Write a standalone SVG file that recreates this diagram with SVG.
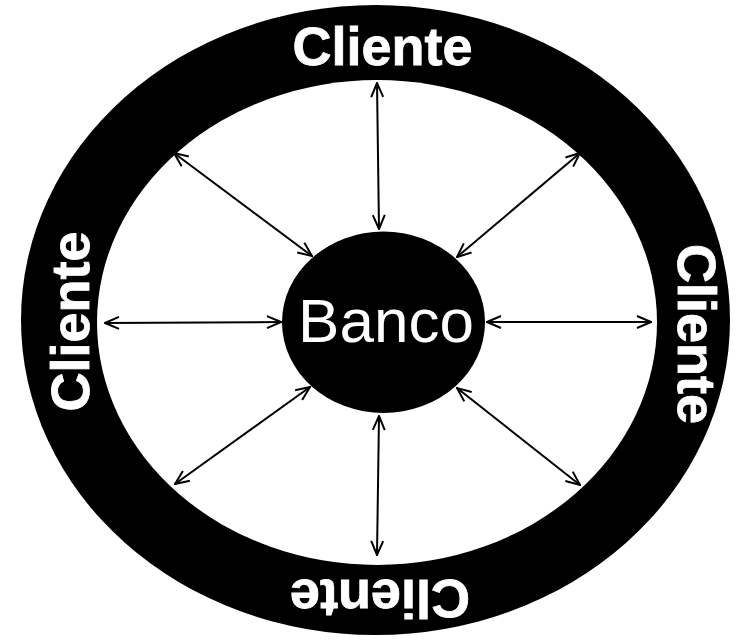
<svg xmlns="http://www.w3.org/2000/svg" width="743" height="640" viewBox="0 0 743 640">
<style>
.lbl{font-family:"Liberation Sans",Arial,sans-serif;font-weight:bold;font-size:54px;fill:#fff;stroke:#fff;stroke-width:0.8;text-anchor:middle}
.conn line{stroke:#000;stroke-width:2;fill:none;marker-start:url(#arr);marker-end:url(#arr)}
</style>
<defs>
<marker id="arr" viewBox="0 0 16 14" refX="15" refY="7" markerWidth="16" markerHeight="14" markerUnits="userSpaceOnUse" orient="auto-start-reverse">
<path d="M1,1 L15,7 L1,13" fill="none" stroke="#000" stroke-width="2"/>
</marker>
</defs>
<rect width="743" height="640" fill="#fff"/>
<g id="ring">
<ellipse cx="375.5" cy="320" rx="354.5" ry="315" fill="#000"/>
<ellipse cx="377" cy="322.5" rx="280" ry="242.5" fill="#fff"/>
</g>
<g id="cliente-top"><text class="lbl" transform="translate(382.5,65)">Cliente</text></g>
<g id="cliente-right"><text class="lbl" transform="translate(678,334) rotate(90)">Cliente</text></g>
<g id="cliente-bottom"><text class="lbl" transform="translate(380,580) rotate(180)">Cliente</text></g>
<g id="cliente-left"><text class="lbl" transform="translate(89,321.5) rotate(-90)">Cliente</text></g>
<g id="banco">
<ellipse cx="383.5" cy="322.3" rx="101.5" ry="90.7" fill="#000"/>
<text x="386" y="342" text-anchor="middle" font-family="'Liberation Sans',Arial,sans-serif" font-size="62" fill="#fff">Banco</text>
</g>
<g class="conn" id="connectors">
<line x1="377" y1="83" x2="379" y2="229"/>
<line x1="379" y1="416" x2="377" y2="555"/>
<line x1="105" y1="323" x2="281" y2="322"/>
<line x1="487" y1="322" x2="651" y2="322"/>
<line x1="174" y1="153" x2="312" y2="256"/>
<line x1="580" y1="153" x2="457" y2="257"/>
<line x1="310" y1="387" x2="175" y2="484"/>
<line x1="457" y1="388" x2="580" y2="485"/>
</g>
</svg>
